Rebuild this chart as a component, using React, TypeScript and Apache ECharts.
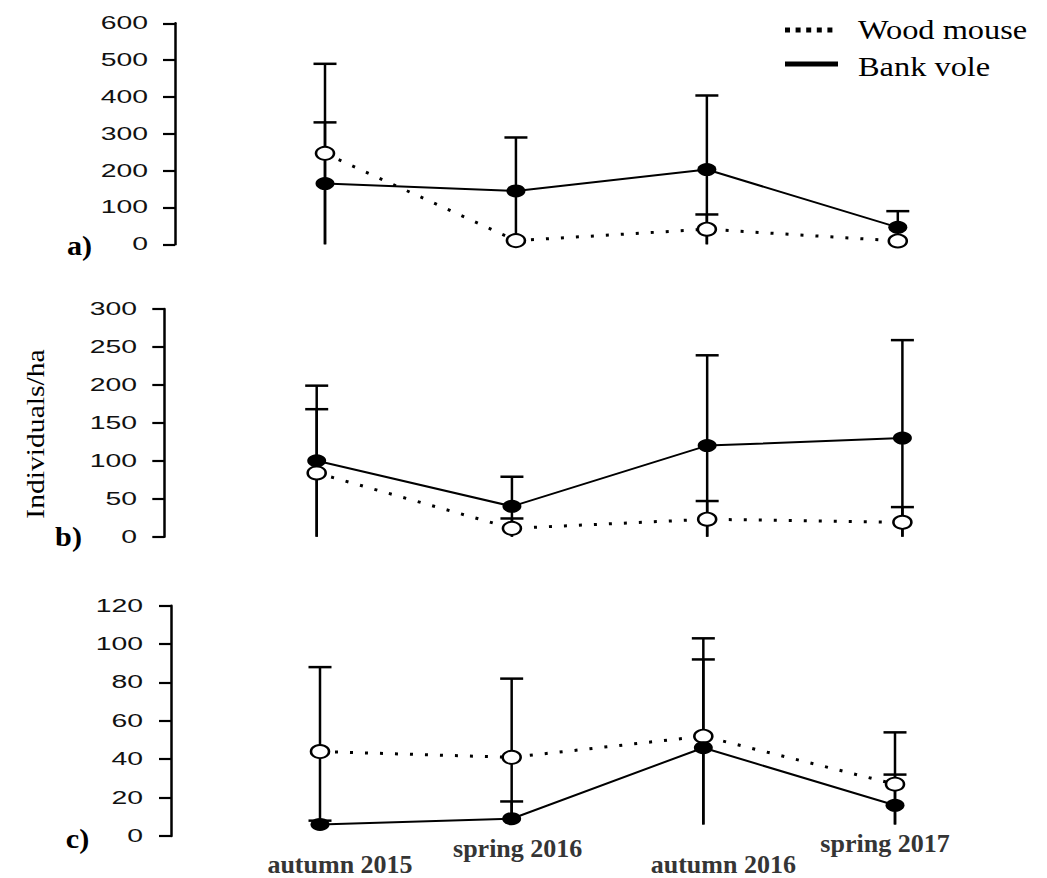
import React, { useEffect, useRef } from "react";
import * as echarts from "echarts";

// Sampling seasons (shared by all three panels)
const seasons = ["autumn 2015", "spring 2016", "autumn 2016", "spring 2017"];

// Panel a)
const woodMouseA = [247, 10, 41, 9];
const woodMouseHighA = [331, null, 81, null];
const woodMouseLowA = [0, null, 0, null];
const bankVoleA = [165, 145, 203, 46];
const bankVoleHighA = [490, 290, 404, 90];
const bankVoleLowA = [0, 3, 0, 3];
const ticksA = [0, 100, 200, 300, 400, 500, 600];

// Panel b)
const woodMouseB = [84, 11, 23, 19];
const woodMouseHighB = [168, 24, 47, 39];
const woodMouseLowB = [0, 0, 0, 0];
const bankVoleB = [100, 40, 120, 130];
const bankVoleHighB = [199, 79, 239, 259];
const bankVoleLowB = [0, 0, 0, 0];
const ticksB = [0, 50, 100, 150, 200, 250, 300];

// Panel c)
const woodMouseC = [44, 41, 52, 27];
const woodMouseHighC = [88, 82, 103, 54];
const woodMouseLowC = [6, 9, 6, 6];
const bankVoleC = [6, 9, 46, 16];
const bankVoleHighC = [8, 18, 92, 32];
const bankVoleLowC = [6, 9, 6, 6];
const ticksC = [0, 20, 40, 60, 80, 100, 120];

const panels = [
  { wm: woodMouseA, wmHi: woodMouseHighA, wmLo: woodMouseLowA, bv: bankVoleA, bvHi: bankVoleHighA, bvLo: bankVoleLowA, ticks: ticksA },
  { wm: woodMouseB, wmHi: woodMouseHighB, wmLo: woodMouseLowB, bv: bankVoleB, bvHi: bankVoleHighB, bvLo: bankVoleLowB, ticks: ticksB },
  { wm: woodMouseC, wmHi: woodMouseHighC, wmLo: woodMouseLowC, bv: bankVoleC, bvHi: bankVoleHighC, bvLo: bankVoleLowC, ticks: ticksC },
];

// Page layout of each panel (pixels)
const layout = [
  { top: 23.3, bottom: 633.7, left: 325, right: 149.2, axisX: 175, labelRight: 148, tag: "a)", tagX: 79.5, tagY: 246 },
  { top: 309, bottom: 341.3, left: 316.7, right: 144.6, axisX: 164.3, labelRight: 137, tag: "b)", tagX: 68.5, tagY: 537 },
  { top: 605.7, bottom: 42, left: 320, right: 152, axisX: 171, labelRight: 143, tag: "c)", tagX: 77.5, tagY: 839 },
];

// Where each season label sits relative to its point in the bottom panel
const seasonLabelShift = [
  [20, 28],
  [6, 12],
  [20, 28],
  [-10, 7],
];

const W = 1047;
const H = 878;
const CAP_HALF = 11.5;
const SERIF = "Liberation Serif";

function errorBarData(lo: (number | null)[], hi: (number | null)[]) {
  const out: number[][] = [];
  hi.forEach((h, i) => {
    const l = lo[i];
    if (h != null && l != null) out.push([i, l, h]);
  });
  return out;
}

function renderErrorBar(_params: any, api: any) {
  const idx = api.value(0);
  const lo = api.coord([idx, api.value(1)]);
  const hi = api.coord([idx, api.value(2)]);
  const style = { stroke: "#000", lineWidth: 2.5 };
  return {
    type: "group",
    children: [
      { type: "line", shape: { x1: lo[0], y1: lo[1], x2: hi[0], y2: hi[1] }, style },
      { type: "line", shape: { x1: hi[0] - CAP_HALF, y1: hi[1], x2: hi[0] + CAP_HALF, y2: hi[1] }, style },
    ],
  };
}

function buildOption() {
  const grid = layout.map((l) => ({ top: l.top, bottom: l.bottom, left: l.left, right: l.right, containLabel: false }));
  const xAxis = layout.map((_l, k) => ({
    type: "category",
    gridIndex: k,
    data: seasons,
    boundaryGap: false,
    axisLine: { show: false },
    axisTick: { show: false },
    axisLabel: { show: false },
    splitLine: { show: false },
  }));
  const yAxis = panels.map((p, k) => ({
    type: "value",
    gridIndex: k,
    min: p.ticks[0],
    max: p.ticks[p.ticks.length - 1],
    interval: p.ticks[1] - p.ticks[0],
    offset: layout[k].left - layout[k].axisX,
    axisLine: { show: true, lineStyle: { color: "#000", width: 2.5 } },
    axisTick: { show: true, inside: false, length: 12, lineStyle: { color: "#000", width: 2.2 } },
    axisLabel: { show: false },
    splitLine: { show: false },
  }));
  const series: any[] = [];
  panels.forEach((p, k) => {
    series.push({
      type: "custom",
      name: "Wood mouse",
      xAxisIndex: k,
      yAxisIndex: k,
      data: errorBarData(p.wmLo, p.wmHi),
      encode: { x: 0, y: [1, 2] },
      renderItem: renderErrorBar,
      clip: false,
      z: 2,
      silent: true,
    });
    series.push({
      type: "custom",
      name: "Bank vole",
      xAxisIndex: k,
      yAxisIndex: k,
      data: errorBarData(p.bvLo, p.bvHi),
      encode: { x: 0, y: [1, 2] },
      renderItem: renderErrorBar,
      clip: false,
      z: 2,
      silent: true,
    });
    series.push({
      type: "line",
      name: "Wood mouse",
      xAxisIndex: k,
      yAxisIndex: k,
      data: p.wm,
      symbol: "circle",
      symbolSize: [18, 13],
      showSymbol: true,
      clip: false,
      z: 3,
      lineStyle: { color: "#000", width: 3, type: [3, 12], cap: "butt" },
      itemStyle: { color: "#fff", borderColor: "#000", borderWidth: 2.2 },
      silent: true,
    });
    series.push({
      type: "line",
      name: "Bank vole",
      xAxisIndex: k,
      yAxisIndex: k,
      data: p.bv,
      symbol: "circle",
      symbolSize: [19, 13],
      showSymbol: true,
      clip: false,
      z: 4,
      lineStyle: { color: "#000", width: 2 },
      itemStyle: { color: "#000", borderColor: "#000", borderWidth: 0 },
      silent: true,
    });
  });
  return {
    animation: false,
    backgroundColor: "#fff",
    grid,
    xAxis,
    yAxis,
    series,
  };
}

function buildGraphics(chart: echarts.ECharts) {
  const els: any[] = [];
  // tick labels, stretched sideways like the rest of the plot
  panels.forEach((p, k) => {
    p.ticks.forEach((t) => {
      const y = chart.convertToPixel({ yAxisIndex: k }, t) as number;
      els.push({
        type: "text",
        x: layout[k].labelRight,
        y,
        scaleX: 1.62,
        silent: true,
        style: {
          text: String(t),
          align: "right",
          verticalAlign: "middle",
          fontFamily: "Liberation Sans",
          fontSize: 17.5,
          fill: "#111",
        },
      });
    });
    els.push({
      type: "text",
      x: layout[k].tagX,
      y: layout[k].tagY,
      scaleX: 1.12,
      silent: true,
      style: {
        text: layout[k].tag,
        align: "center",
        verticalAlign: "middle",
        fontFamily: SERIF,
        fontWeight: "bold",
        fontSize: 27,
        fill: "#000",
      },
    });
  });

  // season labels under the bottom panel
  const baseY = H - layout[2].bottom;
  seasons.forEach((s, i) => {
    const x = chart.convertToPixel({ xAxisIndex: 2 }, s) as number;
    els.push({
      type: "text",
      x: x + seasonLabelShift[i][0],
      y: baseY + seasonLabelShift[i][1],
      silent: true,
      style: {
        text: s,
        align: "center",
        verticalAlign: "middle",
        fontFamily: SERIF,
        fontWeight: "bold",
        fontSize: 26,
        fill: "#353535",
      },
    });
  });

  // y-axis title
  els.push({
    type: "text",
    x: 35,
    y: 434,
    rotation: Math.PI / 2,
    scaleX: 1.14,
    silent: true,
    style: {
      text: "Individuals/ha",
      align: "center",
      verticalAlign: "middle",
      fontFamily: SERIF,
      fontSize: 26,
      fill: "#000",
    },
  });

  // legend
  els.push({
    type: "line",
    silent: true,
    shape: { x1: 785, y1: 30, x2: 838, y2: 30 },
    style: { stroke: "#000", lineWidth: 5, lineDash: [5, 5.6], lineCap: "butt" },
  });
  els.push({
    type: "line",
    silent: true,
    shape: { x1: 785, y1: 64, x2: 838, y2: 64 },
    style: { stroke: "#000", lineWidth: 5 },
  });
  els.push({
    type: "text",
    x: 858,
    y: 29,
    scaleX: 1.2,
    silent: true,
    style: { text: "Wood mouse", align: "left", verticalAlign: "middle", fontFamily: SERIF, fontSize: 27, fill: "#000" },
  });
  els.push({
    type: "text",
    x: 858,
    y: 66,
    scaleX: 1.2,
    silent: true,
    style: { text: "Bank vole", align: "left", verticalAlign: "middle", fontFamily: SERIF, fontSize: 27, fill: "#000" },
  });
  return els;
}

export default function App() {
  const ref = useRef<HTMLDivElement>(null);
  useEffect(() => {
    if (!ref.current) return;
    const chart = echarts.init(ref.current, null, { renderer: "svg" });
    chart.setOption(buildOption());
    chart.setOption({ graphic: { elements: buildGraphics(chart) } });
    return () => chart.dispose();
  }, []);
  return (
    <div
      ref={ref}
      style={{ position: "absolute", left: 0, top: 0, width: W, height: H, background: "#fff" }}
    />
  );
}
